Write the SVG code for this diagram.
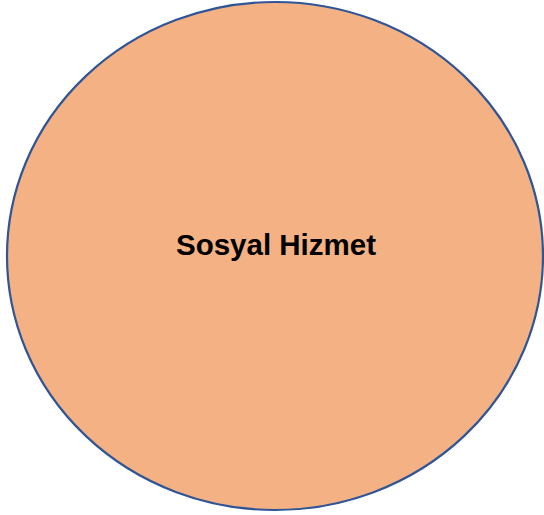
<svg xmlns="http://www.w3.org/2000/svg" width="544" height="515" viewBox="0 0 544 515">
<style>
.node{fill:#F4B183;stroke:#2F5597;stroke-width:2.2}
.lbl{font-family:"Liberation Sans",Arial,sans-serif;font-weight:bold;font-size:29.5px;fill:#000;text-anchor:middle}
</style>
<rect width="544" height="515" fill="#fff"/>
<g id="connectors"/>
<g id="sosyal-hizmet">
<ellipse class="node" cx="275" cy="256" rx="268" ry="254"/>
<text class="lbl" x="276" y="255">Sosyal Hizmet</text>
</g>
</svg>
